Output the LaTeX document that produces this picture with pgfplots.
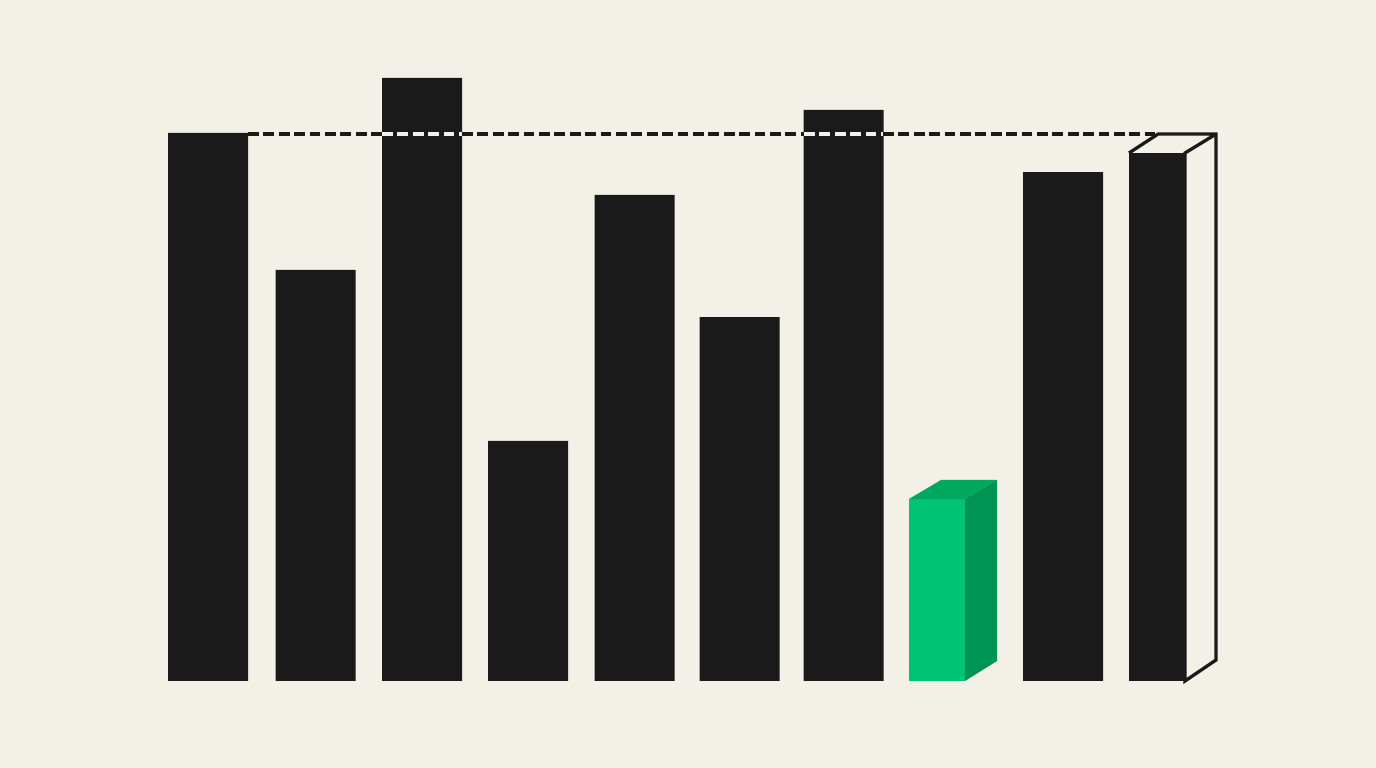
\documentclass[border=0pt]{standalone}
\usepackage{pgfplots}
\pgfplotsset{compat=1.18}
\definecolor{bg}{HTML}{F3F0E7}
\definecolor{ink}{HTML}{1A1A1A}
\definecolor{gfront}{HTML}{00C473}
\definecolor{gtop}{HTML}{00A85E}
\definecolor{gside}{HTML}{009453}
\begin{document}
\begin{tikzpicture}
\begin{axis}[
  scale only axis,
  width=137.6mm, height=76.8mm,
  xmin=0, xmax=1376,
  ymin=-15.876, ymax=124.27,
  ticks=none,
  axis line style={draw=none},
  axis background/.style={fill=bg},
  clip=false,
  dashline/.style={line width=0.33mm, dash pattern=on 1.07mm off 0.47mm},
]
% black bars (value, target = 100)
\addplot[ybar, bar width=80, bar shift=0pt, fill=ink, draw=none]
  coordinates {(208,100) (315.5,75.0) (422,110.04) (528,43.80)
               (634.5,88.69) (739.5,66.42) (843.5,104.20) (1063,92.88)};
% dashed target line
\addplot[ink, dashline] coordinates {(248,99.8) (382,99.8)};
\addplot[bg, dashline] coordinates {(382,99.8) (462,99.8)};
\addplot[ink, dashline] coordinates {(462,99.8) (804,99.8)};
\addplot[bg, dashline] coordinates {(804,99.8) (883,99.8)};
\addplot[ink, dashline] coordinates {(883,99.8) (1155,99.8)};
% green 3D bar
\addplot[ybar, bar width=56, bar shift=0pt, fill=gfront, draw=none]
  coordinates {(937,33.21)};
\addplot[fill=gtop, draw=none]
  coordinates {(909,33.21) (941,36.68) (997,36.68) (965,33.21)} -- cycle;
\addplot[fill=gside, draw=none]
  coordinates {(965,33.21) (997,36.68) (997,3.65) (965,0)} -- cycle;
% last bar with outlined target box
\addplot[ink, line width=0.33mm, line join=miter]
  coordinates {(1129,96.35) (1158,99.8) (1216,99.8) (1216,3.83) (1185,0) (1185,96.35) (1216,99.8)};
\addplot[ybar, bar width=56, bar shift=0pt, fill=ink, draw=none]
  coordinates {(1157,96.35)};
\end{axis}
\end{tikzpicture}
\end{document}
